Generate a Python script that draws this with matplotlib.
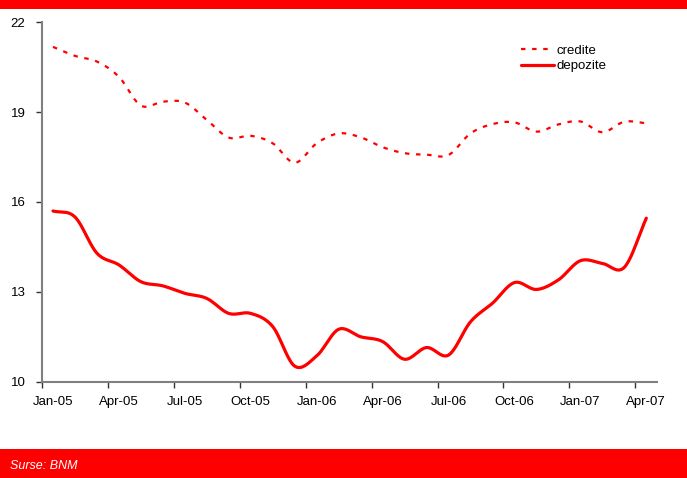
import numpy as np
import matplotlib
matplotlib.use("Agg")
import matplotlib.pyplot as plt
from matplotlib.patches import Rectangle

months = ["Jan-05", "Feb-05", "Mar-05", "Apr-05", "May-05", "Jun-05", "Jul-05", "Aug-05",
          "Sep-05", "Oct-05", "Nov-05", "Dec-05", "Jan-06", "Feb-06", "Mar-06", "Apr-06",
          "May-06", "Jun-06", "Jul-06", "Aug-06", "Sep-06", "Oct-06", "Nov-06", "Dec-06",
          "Jan-07", "Feb-07", "Mar-07", "Apr-07"]
credite = [21.18, 20.88, 20.69, 20.18, 19.22, 19.35, 19.32, 18.74, 18.15, 18.21,
           17.96, 17.31, 17.96, 18.29, 18.16, 17.83, 17.63, 17.58, 17.57, 18.29,
           18.60, 18.66, 18.35, 18.59, 18.69, 18.33, 18.68, 18.63]
depozite = [15.70, 15.50, 14.29, 13.90, 13.34, 13.20, 12.95, 12.78, 12.28, 12.28,
            11.84, 10.52, 10.86, 11.75, 11.50, 11.34, 10.75, 11.14, 10.89, 12.00,
            12.62, 13.31, 13.08, 13.40, 14.04, 13.95, 13.82, 15.46]
yticks = [10, 13, 16, 19, 22]
series_names = ["credite", "depozite"]
source_text = "Surse: BNM"

RED = "#FF0000"


def smooth(y, n=20):
    # Catmull-Rom spline for drawing (Excel-like smoothed line)
    y = np.asarray(y, float)
    x = np.arange(len(y), dtype=float)
    p = np.concatenate([[2 * y[0] - y[1]], y, [2 * y[-1] - y[-2]]])
    xs, ys = [], []
    for i in range(len(y) - 1):
        p0, p1, p2, p3 = p[i], p[i + 1], p[i + 2], p[i + 3]
        t = np.linspace(0, 1, n, endpoint=False)
        v = 0.5 * ((2 * p1) + (-p0 + p2) * t + (2 * p0 - 5 * p1 + 4 * p2 - p3) * t ** 2
                   + (-p0 + 3 * p1 - 3 * p2 + p3) * t ** 3)
        xs.append(x[i] + t)
        ys.append(v)
    xs.append([x[-1]])
    ys.append([y[-1]])
    return np.concatenate(xs), np.concatenate(ys)


plt.rcParams["font.family"] = ["Liberation Sans", "DejaVu Sans"]

fig = plt.figure(figsize=(6.87, 4.78), dpi=100)
fig.patch.set_facecolor("white")

# red bands
fig.add_artist(Rectangle((0, 1 - 9 / 478), 1, 9 / 478, transform=fig.transFigure,
                         color=RED, lw=0, zorder=0))
fig.add_artist(Rectangle((0, 0), 1, 29 / 478, transform=fig.transFigure,
                         color=RED, lw=0, zorder=0))
fig.text(10 / 687, 1 - 466 / 478, source_text, color="white", style="italic",
         fontsize=9, va="center", ha="left")

ax = fig.add_axes([42 / 687, 1 - 381.7 / 478, (657.3 - 42) / 687, (381.7 - 22.3) / 478])

xs, ys = smooth(credite)
ax.plot(xs, ys, color=RED, lw=1.6, linestyle=(0, (2, 3)), label=series_names[0])
xs, ys = smooth(depozite)
ax.plot(xs, ys, color=RED, lw=2.3, solid_capstyle="round", label=series_names[1])

n = len(months)
ax.set_xlim(-0.5, n - 0.5)
ax.set_ylim(10, 22)
ax.set_yticks(yticks)
ax.set_yticklabels([str(v) for v in yticks])

ax.set_xticks(np.arange(-0.5, n - 0.5, 3))
ax.set_xticklabels([])
ax.set_xticks(np.arange(0, n, 3), minor=True)
ax.set_xticklabels([months[i] for i in range(0, n, 3)], minor=True)
ax.tick_params(axis="x", which="minor", length=0, pad=10, labelsize=9.5)
ax.tick_params(axis="x", which="major", length=4, width=1, color="#333333", direction="out")
ax.tick_params(axis="y", length=4, width=1, color="#333333", labelsize=9.5, pad=8)

for s in ["top", "right"]:
    ax.spines[s].set_visible(False)
for s in ["left", "bottom"]:
    ax.spines[s].set_color("#808080")
    ax.spines[s].set_linewidth(1.5)

leg = ax.legend(loc="upper left", bbox_to_anchor=(0.77, 0.953), frameon=False,
                fontsize=9.5, handlelength=2.5, handletextpad=0.15, labelspacing=0.25,
                borderaxespad=0)

fig.savefig("out.png", dpi=100, facecolor="white")
